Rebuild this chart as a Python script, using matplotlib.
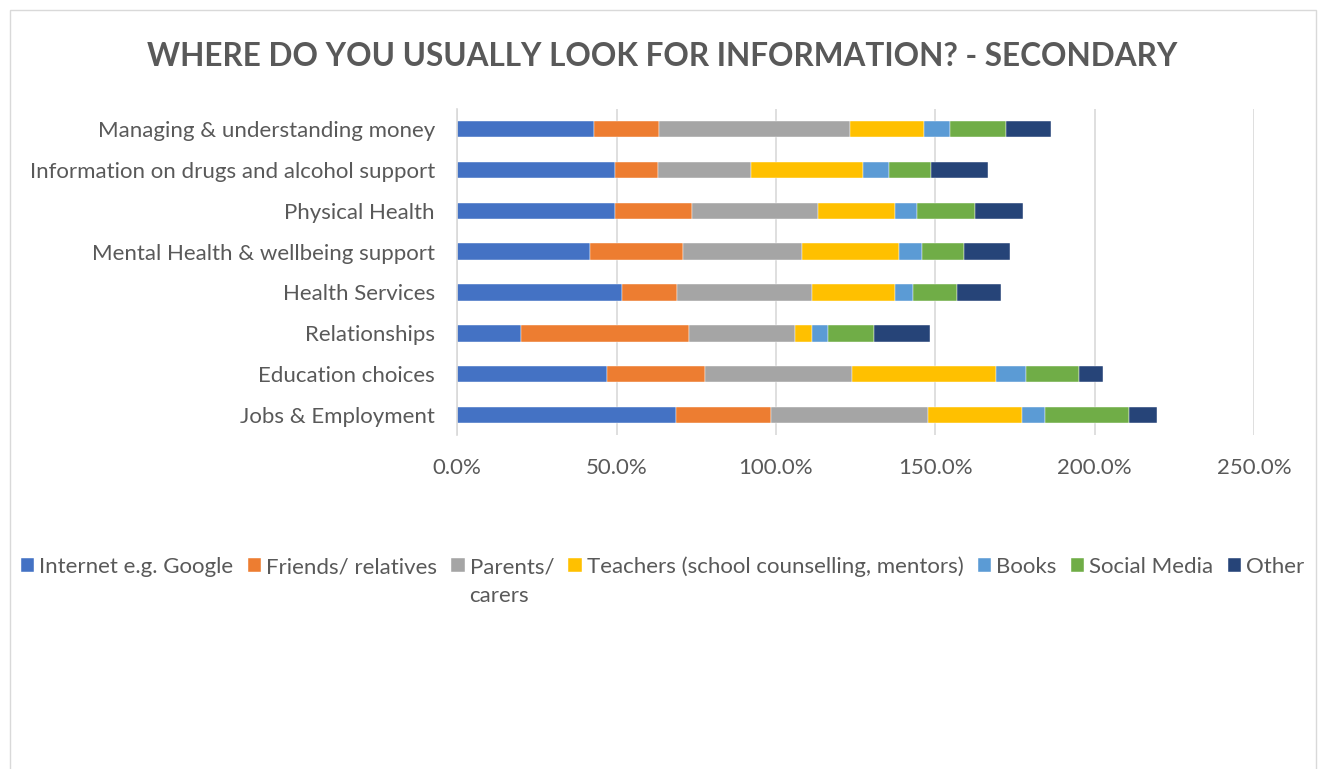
import numpy as np
import matplotlib.pyplot as plt
from matplotlib.patches import Rectangle
from matplotlib.ticker import FuncFormatter

plt.rcParams['font.family'] = ['Lato', 'DejaVu Sans']

categories = ['Managing & understanding money',
              'Information on drugs and alcohol support',
              'Physical Health',
              'Mental Health & wellbeing support',
              'Health Services',
              'Relationships',
              'Education choices',
              'Jobs & Employment']

series_names = ['Internet e.g. Google', 'Friends/ relatives', 'Parents/',
                'Teachers (school counselling, mentors)', 'Books', 'Social Media', 'Other']

# percentages per category (same order as categories)
internet = [42.9, 49.4, 49.4, 41.6, 51.6, 20.0, 46.9, 68.6]
friends = [20.4, 13.5, 24.2, 29.2, 17.3, 52.7, 30.7, 29.8]
parents = [59.8, 29.3, 39.5, 37.4, 42.3, 33.2, 46.2, 49.2]
teachers = [23.3, 35.0, 24.2, 30.5, 26.0, 5.5, 45.2, 29.5]
books = [8.1, 8.3, 7.1, 7.1, 5.8, 4.8, 9.3, 7.3]
social = [17.6, 13.1, 17.9, 13.2, 13.8, 14.7, 16.7, 26.3]
other = [14.1, 17.9, 15.2, 14.4, 13.9, 17.4, 7.6, 8.8]

colors = ['#4472C4', '#ED7D31', '#A5A5A5', '#FFC000', '#5B9BD5', '#70AD47', '#264478']
text_col = '#595959'
fs = 16

fig = plt.figure(figsize=(13.25, 7.69), dpi=100)
W, H = 1325, 769
fig.patches.append(Rectangle((10 / W, -0.01), 1306 / W, 1 - 10 / H + 0.01,
                             transform=fig.transFigure, fill=False,
                             edgecolor='#D9D9D9', linewidth=1))
ax = fig.add_axes([0.345, 0.4337, 0.6015, 0.4251])

y = np.arange(len(categories))[::-1]
left = np.zeros(len(categories))
for name, vals, c in zip(series_names,
                         [internet, friends, parents, teachers, books, social, other],
                         colors):
    ax.barh(y, vals, left=left, height=0.4, color=c, label=name,
            edgecolor='white', linewidth=0.3, zorder=3)
    left += np.array(vals)

ax.set_xlim(0, 250)
ax.set_ylim(-0.5, len(categories) - 0.5)
ax.set_xticks(np.arange(0, 251, 50))
ax.xaxis.set_major_formatter(FuncFormatter(lambda v, p: f'{v:.1f}%'))
ax.set_yticks(y)
ax.set_yticklabels(categories)
ax.tick_params(axis='both', length=0, labelsize=fs, colors=text_col)
ax.tick_params(axis='y', pad=16)
ax.tick_params(axis='x', pad=16)
ax.grid(axis='x', color='#D9D9D9', linewidth=1.2, zorder=0)
for s in ['top', 'right', 'bottom']:
    ax.spines[s].set_visible(False)
ax.spines['left'].set_color('#D9D9D9')
ax.spines['left'].set_linewidth(1.2)
ax.spines['left'].set_zorder(4)

fig.text(0.5, 0.926, 'WHERE DO YOU USUALLY LOOK FOR INFORMATION? - SECONDARY',
         ha='center', va='center', fontsize=22.7, fontweight='bold', color=text_col)

leg = fig.legend(loc='center', bbox_to_anchor=(0.5, 0.263), ncol=7, frameon=False,
                 fontsize=fs, labelcolor=text_col, handlelength=0.6, handleheight=0.6,
                 handletextpad=0.22, columnspacing=0.65)

# second line of the wrapped "Parents/ carers" entry
fig.canvas.draw()
bb = leg.get_texts()[2].get_window_extent()
fig.text(bb.x0 / W, (bb.y0 - 29) / H, 'carers', ha='left', va='bottom',
         fontsize=fs, color=text_col)

fig.savefig('out.png', dpi=100)
